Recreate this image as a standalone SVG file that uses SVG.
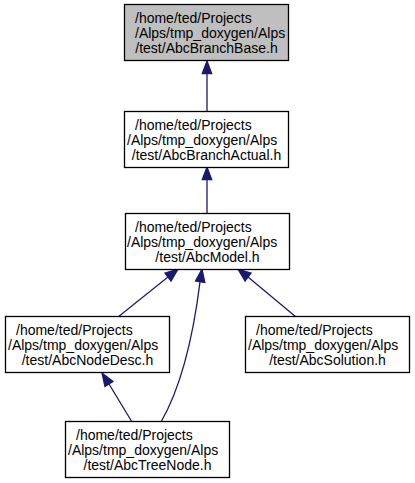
<svg xmlns="http://www.w3.org/2000/svg" width="415" height="483" viewBox="0 0 415 483">
<style>
.box{fill:#ffffff;stroke:#000000;stroke-width:1.3}
.root{fill:#bfbfbf}
text{font-family:"Liberation Sans",Arial,sans-serif;font-size:14px;fill:#000000}
.e{fill:none;stroke:#191970;stroke-width:1.3}
.ah{fill:#191970;stroke:#191970;stroke-width:1.3}
</style>
<rect width="415" height="483" fill="#ffffff"/>
<g id="edges">
<path class="e" d="M207,112 L207,73"/>
<polygon class="ah" points="202.3,73.5 207,61 211.7,73.5"/>
<path class="e" d="M207,213 L207,179"/>
<polygon class="ah" points="202.3,179.5 207,167 211.7,179.5"/>
<path class="e" d="M118,317 L168,277"/>
<polygon class="ah" points="165,273 178,269 171,281"/>
<path class="e" d="M296,317 L248,277"/>
<polygon class="ah" points="245,281 238,269 251,273"/>
<path class="e" d="M161,422 C184,382 194,330 200,282"/>
<polygon class="ah" points="195.5,281 202,269 204.8,282.5"/>
<path class="e" d="M132,422 L109,384"/>
<polygon class="ah" points="105,386.5 102,373 113,381.5"/>
</g>
<g id="node1">
<rect class="box root" x="124.5" y="4.5" width="164" height="56"/>
<text x="135" y="23">/home/ted/Projects</text>
<text x="135" y="38">/Alps/tmp_doxygen/Alps</text>
<text x="206.5" y="53" text-anchor="middle">/test/AbcBranchBase.h</text>
</g>
<g id="node2">
<rect class="box" x="124.5" y="111.5" width="164" height="56"/>
<text x="135" y="130">/home/ted/Projects</text>
<text x="127" y="145">/Alps/tmp_doxygen/Alps</text>
<text x="206.5" y="160" text-anchor="middle">/test/AbcBranchActual.h</text>
</g>
<g id="node3">
<rect class="box" x="125.5" y="213.5" width="164" height="56"/>
<text x="135" y="232">/home/ted/Projects</text>
<text x="127" y="247">/Alps/tmp_doxygen/Alps</text>
<text x="207.5" y="262" text-anchor="middle">/test/AbcModel.h</text>
</g>
<g id="node4">
<rect class="box" x="5.5" y="316.5" width="164" height="56"/>
<text x="16" y="335">/home/ted/Projects</text>
<text x="8" y="350">/Alps/tmp_doxygen/Alps</text>
<text x="87.5" y="365" text-anchor="middle">/test/AbcNodeDesc.h</text>
</g>
<g id="node5">
<rect class="box" x="245.5" y="316.5" width="164" height="56"/>
<text x="256" y="335">/home/ted/Projects</text>
<text x="248" y="350">/Alps/tmp_doxygen/Alps</text>
<text x="327.5" y="365" text-anchor="middle">/test/AbcSolution.h</text>
</g>
<g id="node6">
<rect class="box" x="65.5" y="421.5" width="164" height="56"/>
<text x="76" y="440">/home/ted/Projects</text>
<text x="68" y="455">/Alps/tmp_doxygen/Alps</text>
<text x="147.5" y="470" text-anchor="middle">/test/AbcTreeNode.h</text>
</g>
</svg>
